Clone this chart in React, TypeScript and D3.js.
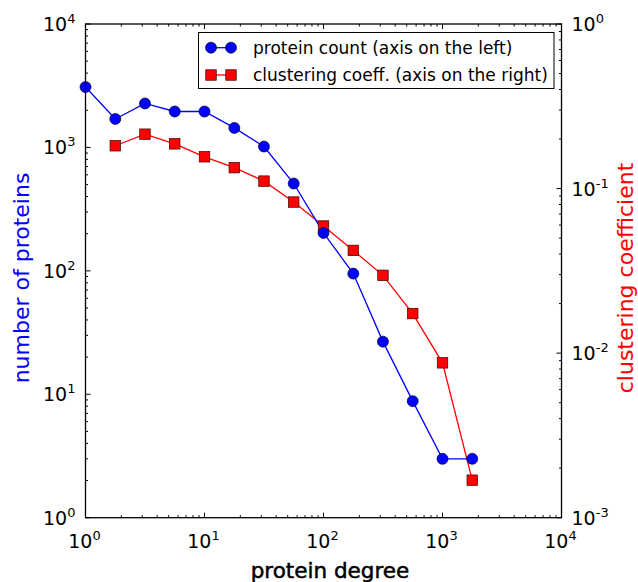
import React from "react";
import * as d3 from "d3";

const degrees = [1, 1.78, 3.16, 5.62, 10, 17.8, 31.6, 56.2, 100, 178, 316, 562, 1000, 1778];
const proteinCount = [3085, 1700, 2270, 1955, 1955, 1440, 1017, 510, 203, 95, 26.7, 8.8, 3, 3];
const clusterDegrees = [1.78, 3.16, 5.62, 10, 17.8, 31.6, 56.2, 100, 178, 316, 562, 1000, 1778];
const clusteringCoeff = [0.182, 0.214, 0.187, 0.156, 0.134, 0.111, 0.0828, 0.0592, 0.0421, 0.0297, 0.0174, 0.00873, 0.00169];
const xTickExps = [0, 1, 2, 3, 4];
const yLeftTickExps = [0, 1, 2, 3, 4];
const yRightTickExps = [-3, -2, -1, 0];
const legendLabels = ["protein count (axis on the left)", "clustering coeff. (axis on the right)"];

const W = 638, H = 582;
const L = 85.5, R = 561.5, T = 24, B = 517.7;
const FONT = "DejaVu Sans, sans-serif";

function isMajor(v: number) {
  const l = Math.log10(v);
  return Math.abs(l - Math.round(l)) < 1e-9;
}

function Pow({ x, y, exp, anchor }: { x: number; y: number; exp: number; anchor: string }) {
  return (
    <text x={x} y={y} fontFamily={FONT} fontSize={19} fill="#000" textAnchor={anchor}>
      10<tspan fontSize={13} dy={-8}>{exp}</tspan>
    </text>
  );
}

export default function App() {
  const x = d3.scaleLog().domain([1, 1e4]).range([L, R]);
  const yL = d3.scaleLog().domain([1, 1e4]).range([B, T]);
  const yR = d3.scaleLog().domain([1e-3, 1]).range([B, T]);

  const xTicks = x.ticks();
  const yLTicks = yL.ticks();
  const yRTicks = yR.ticks();

  const blueLine = d3.line<number>().x((_, i) => x(degrees[i])).y((d) => yL(d))(proteinCount) || "";
  const redLine = d3.line<number>().x((_, i) => x(clusterDegrees[i])).y((d) => yR(d))(clusteringCoeff) || "";

  const sq = 10.5;
  const cr = 5.5;

  return (
    <svg width={W} height={H} style={{ position: "absolute", left: 0, top: 0, background: "#fff" }}>
      <rect x={0} y={0} width={W} height={H} fill="#fff" />
      {xTicks.map((t, i) => {
        const len = isMajor(t) ? 5 : 2.5;
        const px = x(t);
        return (
          <g key={"xt" + i} stroke="#000" strokeWidth={1}>
            <line x1={px} x2={px} y1={B} y2={B - len} />
            <line x1={px} x2={px} y1={T} y2={T + len} />
          </g>
        );
      })}
      {yLTicks.map((t, i) => {
        const len = isMajor(t) ? 5 : 2.5;
        const py = yL(t);
        return <line key={"yl" + i} x1={L} x2={L + len} y1={py} y2={py} stroke="#000" strokeWidth={1} />;
      })}
      {yRTicks.map((t, i) => {
        const len = isMajor(t) ? 5 : 2.5;
        const py = yR(t);
        return <line key={"yr" + i} x1={R} x2={R - len} y1={py} y2={py} stroke="#000" strokeWidth={1} />;
      })}

      <path d={redLine} fill="none" stroke="#ff0000" strokeWidth={1.3} />
      <path d={blueLine} fill="none" stroke="#0000ff" strokeWidth={1.3} />
      {clusteringCoeff.map((v, i) => (
        <rect key={"rs" + i} x={x(clusterDegrees[i]) - sq / 2} y={yR(v) - sq / 2} width={sq} height={sq}
          fill="#ff0000" stroke="#400000" strokeWidth={0.7} />
      ))}
      {proteinCount.map((v, i) => (
        <circle key={"bc" + i} cx={x(degrees[i])} cy={yL(v)} r={cr} fill="#0000ff" stroke="#000030" strokeWidth={0.7} />
      ))}

      <rect x={L} y={T} width={R - L} height={B - T} fill="none" stroke="#000" strokeWidth={1.3} />

      {xTickExps.map((e) => (
        <Pow key={"xl" + e} x={x(Math.pow(10, e)) - 1} y={548} exp={e} anchor="middle" />
      ))}
      {yLeftTickExps.map((e) => (
        <Pow key={"yll" + e} x={L - 10} y={yL(Math.pow(10, e)) + 7} exp={e} anchor="end" />
      ))}
      {yRightTickExps.map((e) => (
        <Pow key={"yrl" + e} x={R + 10} y={yR(Math.pow(10, e)) + 7} exp={e} anchor="start" />
      ))}

      <text x={330} y={578} fontFamily={FONT} fontSize={21.5} stroke="#000" strokeWidth={0.5} textAnchor="middle" fill="#000">protein degree</text>
      <text transform={`translate(28.5,278) rotate(-90)`} fontFamily={FONT} fontSize={22} textAnchor="middle" fill="#0000ff">number of proteins</text>
      <text transform={`translate(633,278) rotate(-90)`} fontFamily={FONT} fontSize={22} textAnchor="middle" fill="#ff0000">clustering coefficient</text>

      <rect x={198.5} y={32.5} width={355.5} height={56} fill="#fff" stroke="#000" strokeWidth={1} />
      <line x1={211} x2={231} y1={47.7} y2={47.7} stroke="#0000ff" strokeWidth={1.3} />
      <circle cx={211} cy={47.7} r={cr} fill="#0000ff" stroke="#000030" strokeWidth={0.7} />
      <circle cx={231} cy={47.7} r={cr} fill="#0000ff" stroke="#000030" strokeWidth={0.7} />
      <text x={253} y={47.7} dy="0.35em" fontFamily={FONT} fontSize={17} fill="#000">{legendLabels[0]}</text>
      <line x1={211} x2={231} y1={75} y2={75} stroke="#ff0000" strokeWidth={1.3} />
      <rect x={211 - sq / 2} y={75 - sq / 2} width={sq} height={sq} fill="#ff0000" stroke="#400000" strokeWidth={0.7} />
      <rect x={231 - sq / 2} y={75 - sq / 2} width={sq} height={sq} fill="#ff0000" stroke="#400000" strokeWidth={0.7} />
      <text x={253} y={75} dy="0.35em" fontFamily={FONT} fontSize={17} fill="#000">{legendLabels[1]}</text>
    </svg>
  );
}
